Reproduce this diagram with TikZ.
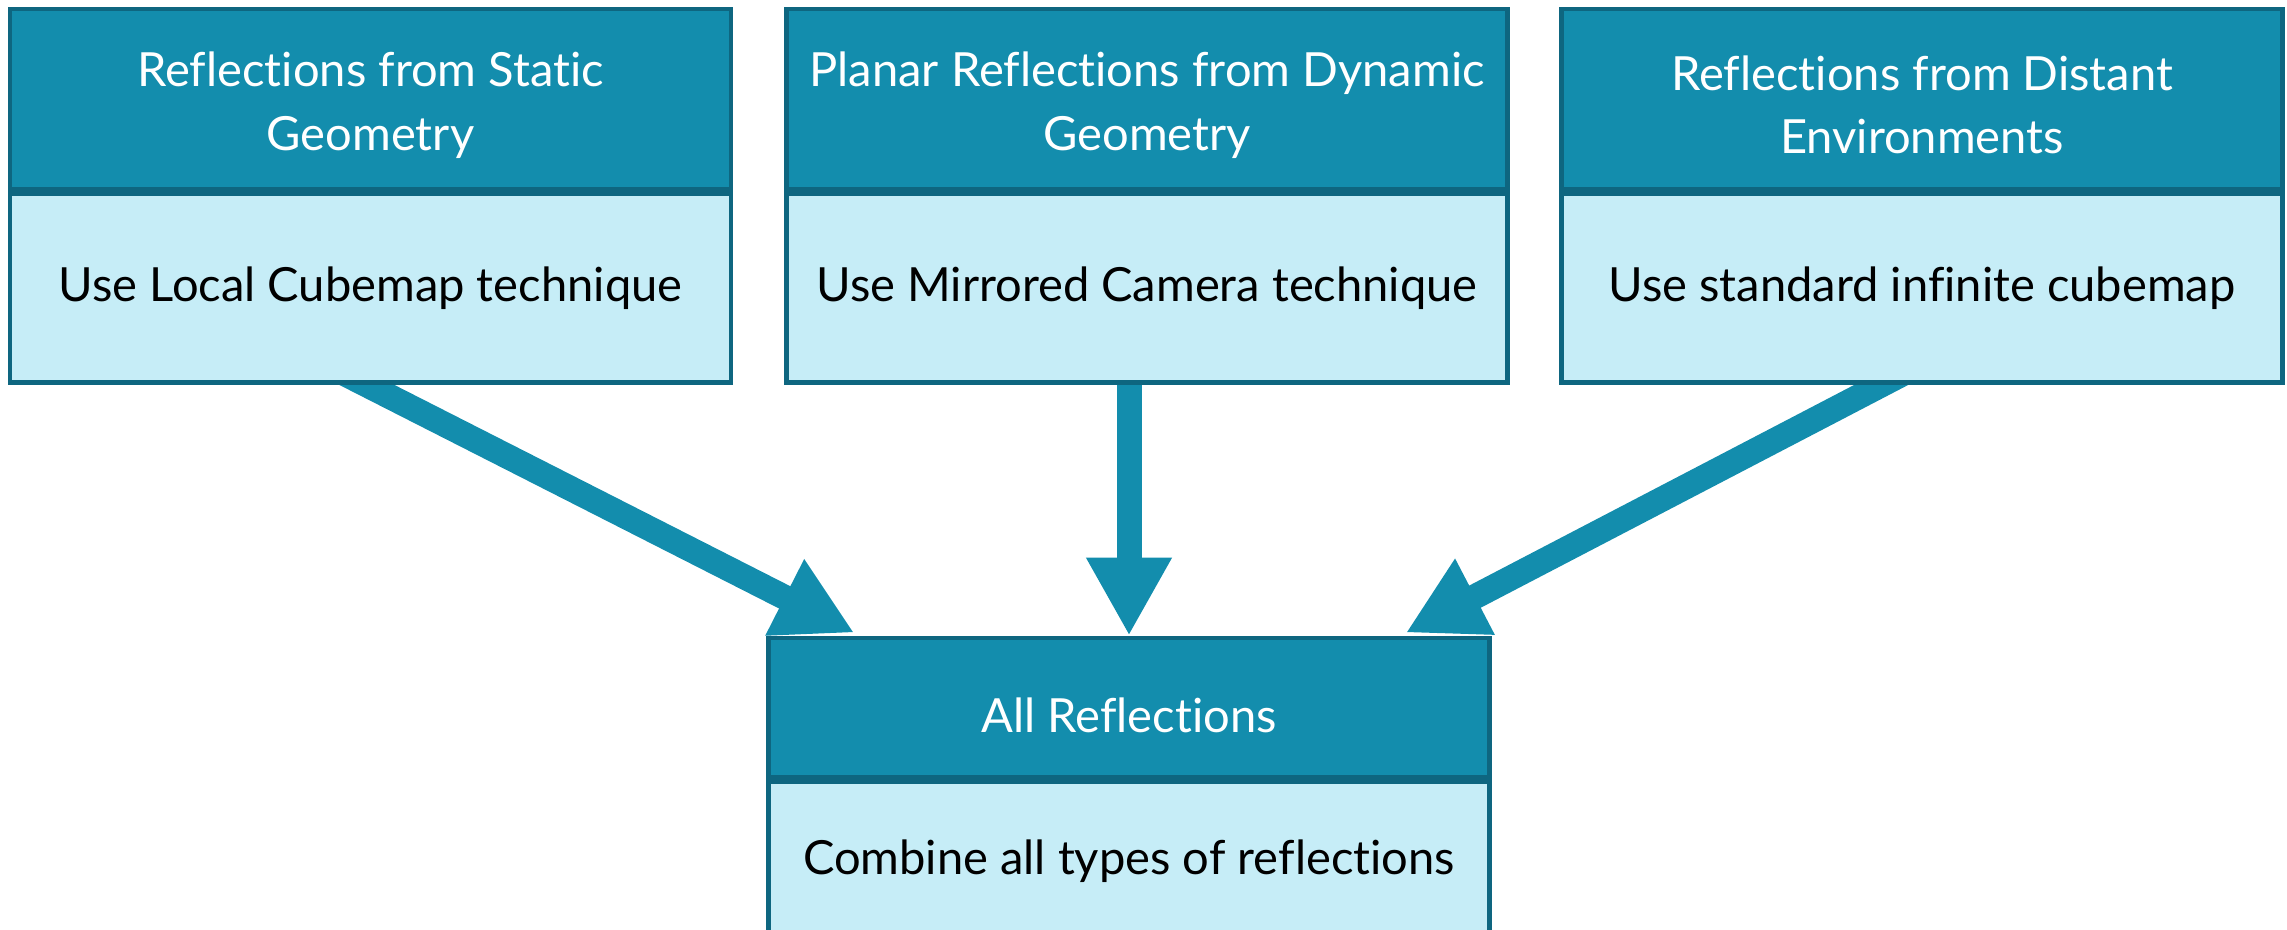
\documentclass[tikz,border=0pt]{standalone}
\usepackage{fontspec}
\setmainfont{Lato}[Ligatures=NoCommon]
\usetikzlibrary{arrows.meta,positioning}
\pgfdeclarelayer{background}
\pgfsetlayers{background,main}

\definecolor{headteal}{HTML}{138DAD}
\definecolor{edgeteal}{HTML}{0E6680}
\definecolor{bodycyan}{HTML}{C6EDF7}

% a tall first line lowers a text block a little inside its box
\newcommand\tallline{\rule{0pt}{13.2pt}}

\tikzset{
  boxbase/.style={draw=edgeteal, line width=1.3pt, minimum width=7.21cm,
    inner sep=0pt, align=center, font=\fontsize{13.4}{18.2}\selectfont},
  headbox/.style={boxbase, fill=headteal, text=white, minimum height=1.80cm},
  bodybox/.style={boxbase, fill=bodycyan, text=black, minimum height=1.89cm},
  flow/.style={draw=headteal, line width=0.25cm,
    -{Triangle[length=0.78cm, width=0.80cm]}},
}

\begin{document}
\begin{tikzpicture}
\useasboundingbox (0,0) rectangle (22.87,-9.30);

% top row
\node[headbox] (h1) at (3.705,-0.99) {\tallline Reflections from Static\\Geometry};
\node[bodybox, below=0pt of h1] (b1) {Use Local Cubemap technique};

\node[headbox] (h2) at (11.47,-0.99) {\tallline Planar Reflections from Dynamic\\Geometry};
\node[bodybox, below=0pt of h2] (b2) {Use Mirrored Camera technique};

\node[headbox] (h3) at (19.22,-0.99) {\tallline Reflections from Distant\\Environments};
\node[bodybox, below=0pt of h3] (b3) {Use standard infinite cubemap};

% combined result
\node[headbox, minimum height=1.39cm] (hb) at (11.29,-7.075) {\rule{0pt}{14.5pt}All Reflections};
\node[bodybox, minimum height=1.52cm, below=0pt of hb] (bb) {\rule{0pt}{12pt}Combine all types of reflections};

% connectors, tucked behind the boxes they leave
\begin{pgfonlayer}{background}
\draw[flow] ([xshift=-0.628cm,yshift=0.30cm]b1.south) -- ([xshift=0.88cm,yshift=0.03cm]hb.north west);
\draw[flow] ([yshift=0.30cm]b2.south -| hb.north) -- (hb.north);
\draw[flow] ([xshift=0.169cm,yshift=0.30cm]b3.south) -- ([xshift=-0.86cm,yshift=0.03cm]hb.north east);
\end{pgfonlayer}
\end{tikzpicture}
\end{document}
